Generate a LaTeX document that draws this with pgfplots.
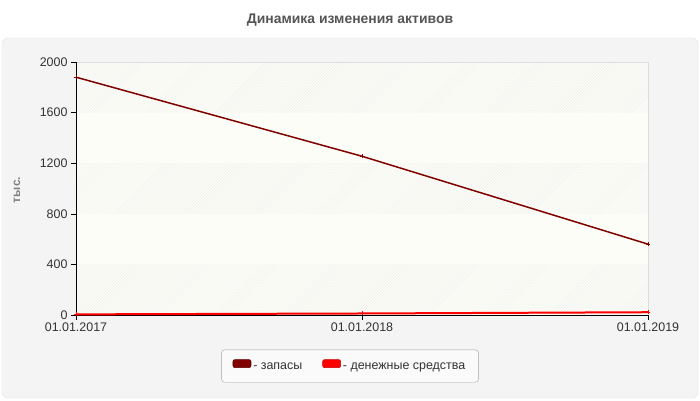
\documentclass[border=0pt]{standalone}
\usepackage{fontspec}
\setmainfont{Liberation Sans}
\usepackage{pgfplots}
\pgfplotsset{compat=1.18}
\usetikzlibrary{patterns}

\definecolor{panelbg}{HTML}{F4F4F4}
\definecolor{panelline}{HTML}{E2E2E2}
\definecolor{bandyel}{HTML}{FDFDF7}
\definecolor{hatch}{HTML}{EFEFEF}
\definecolor{gridc}{HTML}{DDDDDD}
\definecolor{zapas}{HTML}{800000}
\definecolor{dengi}{HTML}{FF0000}
\definecolor{titlec}{HTML}{555555}

\begin{document}
\begin{tikzpicture}[x=1bp,y=1bp]
% canvas and panel
\fill[white] (0,0) rectangle (700,400);
\filldraw[fill=panelbg, draw=panelline, rounded corners=6bp] (2,2) rectangle (698,362);
\node[font=\bfseries\fontsize{14}{16}\selectfont, text=titlec] at (350,380) {Динамика изменения активов};
\node[font=\bfseries\fontsize{12}{14}\selectfont, text=gray, rotate=90] at (17,210) {тыс.};

\begin{axis}[
  at={(76bp,85bp)}, anchor=south west,
  scale only axis,
  width=572bp, height=253bp,
  xmin=0, xmax=2,
  ymin=0, ymax=2000,
  xtick={0,1,2},
  xticklabels={01.01.2017,01.01.2018,01.01.2019},
  ytick={0,400,800,1200,1600,2000},
  ymajorgrids=true, xmajorgrids=true,
  grid style={dashed, gridc},
  axis line style={draw=none},
  tick style={black, thin},
  tick align=outside,
  major tick length=5bp,
  xtick pos=bottom, ytick pos=left,
  ticklabel style={font=\fontsize{12.5}{14}\selectfont, text=black!80},
  /pgf/number format/assume math mode=true,
  /pgf/number format/1000 sep={},
  xticklabel style={yshift=1bp},
  clip=false,
  legend columns=2,
  legend style={at={(0.479,-0.2016)}, anchor=center,
    fill=white!98!black, draw=gray!70, rounded corners=3bp,
    font=\fontsize{12.5}{14}\selectfont, text=black!80,
    inner xsep=11bp, inner ysep=9.5bp,
    /tikz/every even column/.append style={column sep=18bp}},
  legend image code/.code={
    \draw[#1, line width=0.6bp, rounded corners=2bp, fill] (0bp,-1bp) rectangle (18bp,7bp);
  },
]
% background bands
\fill[bandyel] (axis cs:0,0) rectangle (axis cs:2,2000);
\fill[pattern=north east lines, pattern color=hatch] (axis cs:0,1600) rectangle (axis cs:2,2000);
\fill[pattern=north east lines, pattern color=hatch] (axis cs:0,800) rectangle (axis cs:2,1200);
\fill[pattern=north east lines, pattern color=hatch] (axis cs:0,0) rectangle (axis cs:2,400);
\draw[gridc] (axis cs:0,2000) -- (axis cs:2,2000) -- (axis cs:2,0);
\draw[black] (axis cs:0,2000) -- (axis cs:0,0) -- (axis cs:2,0);

\addplot[color=zapas, line width=1.5bp, mark=+, mark size=2bp,
  mark options={line width=1bp}, legend image post style={draw=zapas!70!black, fill=zapas}]
  coordinates {(0,1880) (1,1255) (2,560)};
\addlegendentry{- запасы}

\addplot[color=dengi, line width=2bp, mark=+, mark size=2bp,
  mark options={line width=1bp}, legend image post style={draw=dengi!80!black, fill=dengi}]
  coordinates {(0,5) (1,12) (2,22)};
\addlegendentry{- денежные средства}
\end{axis}
\end{tikzpicture}
\end{document}
